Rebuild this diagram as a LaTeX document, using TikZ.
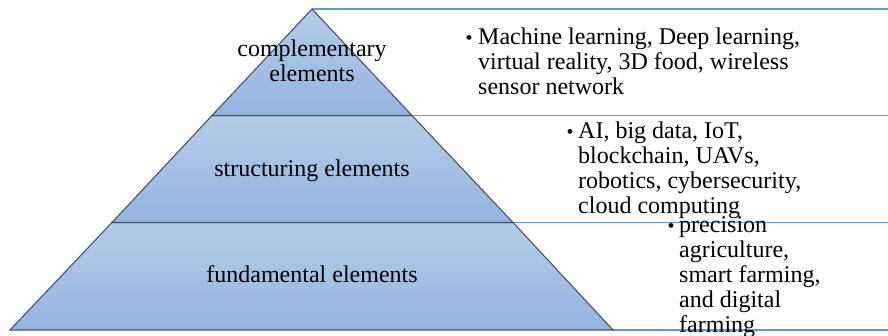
\documentclass[tikz,border=0pt]{standalone}
\usepackage{fontspec}
\setmainfont{Liberation Serif}
\definecolor{bandtop}{HTML}{B4CCE9}
\definecolor{bandbot}{HTML}{94B5E0}
\definecolor{edge}{HTML}{44546A}
\definecolor{rule}{HTML}{5B9BD5}
\begin{document}
\begin{tikzpicture}[x=1pt,y=-1pt,
  band/.style={top color=bandtop,bottom color=bandbot,draw=edge,line width=1.1pt,line join=miter},
  rulel/.style={draw=rule,line width=1.4pt},
  lab/.style={inner sep=0pt,font=\fontsize{24}{25}\selectfont},
  bul/.style={inner sep=0pt,font=\fontsize{20}{20}\selectfont,anchor=base},
  txt/.style={inner sep=0pt,font=\fontsize{24}{25}\selectfont,anchor=base west}]
\useasboundingbox (0,0) rectangle (888,336);
\coordinate (A) at (312,9);
\coordinate (L1) at (212,115.5);
\coordinate (R1) at (412,115.5);
\coordinate (L2) at (112,222.5);
\coordinate (R2) at (513,222.5);
\coordinate (BL) at (10,330);
\coordinate (BR) at (613,330);
\coordinate (E0) at (888,9);
\coordinate (E1) at (888,115.5);
\coordinate (E2) at (888,222.5);
\coordinate (E3) at (888,330);
% blue rules
\draw[rulel] (A) -- (E0);
\draw[rulel] (R1) -- (E1);
\draw[rulel] (R2) -- (E2);
\draw[rulel] (BR) -- (E3);
% pyramid bands
\path[band] (L2) -- (R2) -- (BR) -- (BL) -- cycle;
\path[band] (L1) -- (R1) -- (R2) -- (L2) -- cycle;
\path[band] (A) -- (R1) -- (L1) -- cycle;
% labels
\node[lab,anchor=base] (comp) at (312,57) {\parbox[t]{220pt}{\centering complementary\\elements}};
\node[lab,anchor=base] (struc) at (312,177) {structuring elements};
\node[lab,anchor=base] (fund) at (312,283) {fundamental elements};
% right texts
\node[bul] (b1) at (469,45) {•};
\node[txt] (t1) at (478,45) {\parbox[t]{400pt}{\raggedright Machine learning, Deep learning,\\virtual reality, 3D food, wireless\\sensor network}};
\node[bul] (b2) at (570,139) {•};
\node[txt] (t2) at (578,139) {\parbox[t]{300pt}{\raggedright AI, big data, IoT,\\blockchain, UAVs,\\robotics, cybersecurity,\\cloud computing}};
\node[bul] (b3) at (671,233) {•};
\node[txt] (t3) at (679,233) {\parbox[t]{200pt}{\raggedright precision\\agriculture,\\smart farming,\\and digital\\farming}};
\end{tikzpicture}
\end{document}
